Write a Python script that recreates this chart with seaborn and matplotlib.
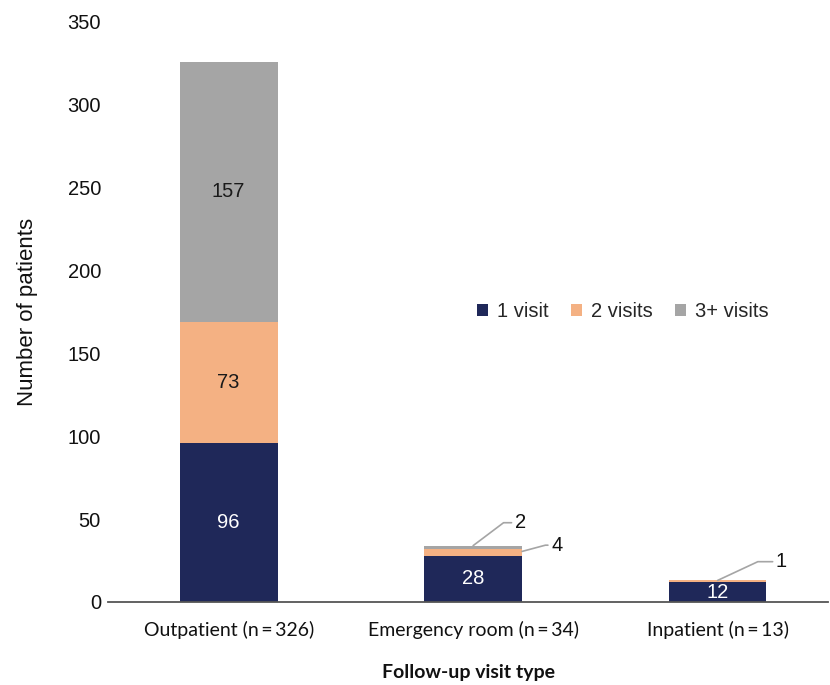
import matplotlib
matplotlib.use("Agg")
import matplotlib.pyplot as plt
import seaborn as sns
import numpy as np
from matplotlib.patches import Patch

# Follow-up visits by visit type
categories = ["Outpatient (n\u2009=\u2009326)", "Emergency room (n\u2009=\u200934)", "Inpatient (n\u2009=\u200913)"]
series_names = ["1 visit", "2 visits", "3+ visits"]
one_visit = [96, 28, 12]
two_visits = [73, 4, 1]
three_plus = [157, 2, 0]
colors = ["#1F2859", "#F4B183", "#A5A5A5"]
inside_text_colors = ["white", "#1a1a1a", "#1a1a1a"]
y_ticks = [0, 50, 100, 150, 200, 250, 300, 350]

sns.set_theme(style="white")
plt.rcParams["font.family"] = ["Liberation Sans", "DejaVu Sans"]

fig = plt.figure(figsize=(8.3, 6.85), dpi=100)
ax = fig.add_axes([0.130, 0.1212, 0.868, 0.8467])

series = [one_visit, two_visits, three_plus]
bottoms = np.zeros(len(categories))
for vals, col in zip(series, colors):
    sns.barplot(x=categories, y=vals, color=col, width=0.4, bottom=bottoms,
                saturation=1, ax=ax, linewidth=0)
    bottoms = bottoms + np.array(vals)

# Value labels inside the larger segments
bottoms = np.zeros(len(categories))
for vals, tcol in zip(series, inside_text_colors):
    for i, v in enumerate(vals):
        if v >= 10:
            ax.text(i, bottoms[i] + v / 2, str(v), ha="center", va="center",
                    fontsize=14.5, color=tcol)
    bottoms = bottoms + np.array(vals)

# Leader-line labels for the thin segments
def leader(i, y_target, label, dx, dy, angle):
    ax.annotate(label, xy=(i, y_target), xytext=(dx, dy), textcoords="offset points",
                ha="left", va="center", fontsize=14.5, color="#111111",
                arrowprops=dict(arrowstyle="-", color="#A5A5A5", lw=1.2, shrinkA=0, shrinkB=0,
                                connectionstyle=f"angle,angleA=0,angleB={angle},rad=0"))

er_total = one_visit[1] + two_visits[1] + three_plus[1]
leader(1, er_total, str(three_plus[1]), 30, 16.5, 37)
leader(1.2, one_visit[1] + two_visits[1] / 2 + 0.5, str(two_visits[1]), 21, 4.5, 15)
leader(2, one_visit[2] + two_visits[2], str(two_visits[2]), 42, 13.5, 25)

ax.set_ylim(0, 350)
ax.set_xlim(-0.494, 2.453)
ax.set_yticks(y_ticks)
ax.set_yticklabels([str(t) for t in y_ticks], fontsize=14.5, color="#111111")
ax.tick_params(axis="y", length=0, pad=5)
ax.tick_params(axis="x", length=0, pad=14)
for lab in ax.get_xticklabels():
    lab.set_fontfamily(["Lato", "DejaVu Sans"])
    lab.set_fontsize(14)
    lab.set_color("#111111")

ax.set_ylabel("Number of patients", fontsize=16, color="#111111", labelpad=21)
ax.set_xlabel("Follow-up visit type", fontsize=14, fontweight="bold", color="#111111",
              fontfamily=["Lato", "DejaVu Sans"], labelpad=18)

for side in ["left", "right", "top"]:
    ax.spines[side].set_visible(False)
ax.spines["bottom"].set_color("#555555")
ax.spines["bottom"].set_linewidth(1.3)

handles = [Patch(facecolor=c, edgecolor="none", label=n) for c, n in zip(colors, series_names)]
ax.legend(handles=handles, loc="center", bbox_to_anchor=(0.715, 0.50), ncol=3, frameon=False,
          fontsize=14.5, handlelength=0.55, handleheight=0.55, handletextpad=0.45, columnspacing=1.1)

fig.savefig("out.png", dpi=100, facecolor="white")
